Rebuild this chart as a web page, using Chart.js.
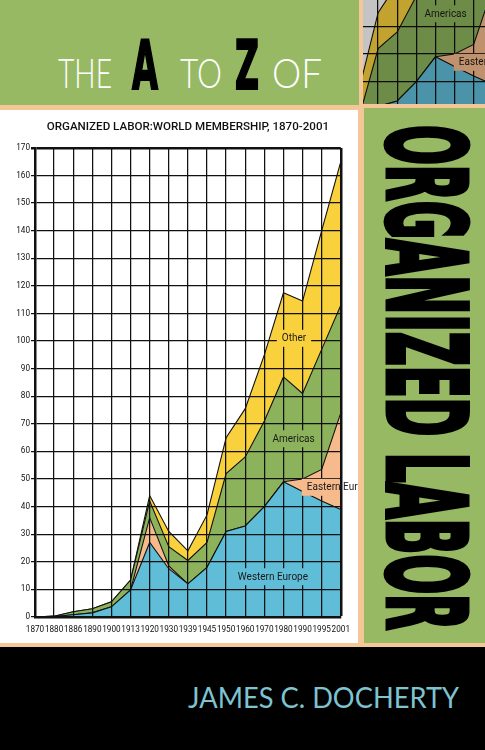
<!DOCTYPE html>
<html>
<head>
<meta charset="utf-8">
<script src="https://cdn.jsdelivr.net/npm/chart.js@4.4.0/dist/chart.umd.min.js"></script>
<style>
html,body{margin:0;padding:0;}
body{width:485px;height:750px;position:relative;background:#000;overflow:hidden;}
.abs{position:absolute;}
#peach{left:0;top:0;width:485px;height:647px;background:#F4C798;}
#topband{left:0;top:0;width:359px;height:105px;background:#97B964;}
#inset{left:363px;top:0;width:122px;height:104px;overflow:hidden;background:#c4c4c4;}
#inset canvas{position:absolute;left:-211px;top:-315px;filter:brightness(0.78);}
#panel{left:0;top:110px;width:358px;height:533px;background:#fff;}
#panel canvas{position:absolute;left:0;top:0;}
#rgreen{left:364px;top:108px;width:121px;height:535px;background:#97B964;}
.txt{left:0;top:0;white-space:nowrap;line-height:1;transform-origin:0 0;}
.light{font-family:Lato,"Open Sans",sans-serif;font-weight:300;font-size:42px;color:#fff;}
.heavy{font-family:"DejaVu Sans",sans-serif;font-weight:bold;font-stretch:condensed;color:#000;-webkit-text-stroke:2px #000;}
#vert{font-size:108px;-webkit-text-stroke:5px #000;}
#author{font-family:Lato,"Open Sans",sans-serif;font-weight:400;font-size:29px;color:#7DC3D0;}
</style>
</head>
<body>
<div id="peach" class="abs"></div>
<div id="topband" class="abs"></div>
<div id="inset" class="abs"><canvas id="c2" width="358" height="533"></canvas></div>
<div id="panel" class="abs"><canvas id="c1" width="358" height="533"></canvas></div>
<div id="rgreen" class="abs"></div>
<div id="tThe" class="abs txt light">THE</div>
<div id="tA" class="abs txt heavy" style="font-size:67px">A</div>
<div id="tTo" class="abs txt light">TO</div>
<div id="tZ" class="abs txt heavy" style="font-size:67px">Z</div>
<div id="tOf" class="abs txt light">OF</div>
<div id="vert" class="abs txt heavy">ORGANIZED LABOR</div>
<div id="author" class="abs txt">JAMES C. DOCHERTY</div>
<script>
// ---- data (millions of members) ----
const years = ['1870','1880','1886','1890','1900','1913','1920','1930','1939','1945','1950','1960','1970','1980','1990','1995','2001'];
const westernEurope = [0, 0.2, 0.8, 1.5, 3.7, 9.8, 27, 17.5, 12, 18, 31, 33, 40, 49, 45.5, 42, 39];
const easternEurope = [0, 0, 0, 0, 0, 0, 9, 1, 0, 0, 0, 0, 0, 0, 4.5, 11.5, 35];
const americas      = [0, 0.1, 1.1, 1.5, 1.8, 3.6, 6, 7, 8.5, 9, 21, 25, 31, 38, 31, 43.5, 39];
const other         = [0, 0, 0, 0, 0, 0, 2, 5.5, 3.5, 10, 13, 17.5, 24, 30.5, 33.5, 43, 52];
const yTicks = [0,10,20,30,40,50,60,70,80,90,100,110,120,130,140,150,160,170];
const chartTitle = 'ORGANIZED LABOR:WORLD MEMBERSHIP, 1870-2001';

const COLORS = {we:'#5FBDD8', ee:'#F6BA8C', am:'#8CB35B', ot:'#F9D13D'};

// series labels placed in data coordinates (category index, value)
const seriesLabels = [
  {text:'Other', idx:13.55, val:101, bg:COLORS.ot, align:'center'},
  {text:'Americas', idx:13.53, val:64.6, bg:COLORS.am, align:'center'},
  {text:'Western Europe', idx:12.45, val:14.6, bg:COLORS.we, align:'center'},
  {text:'Eastern Europe', idx:14.22, val:47, bg:COLORS.ee, align:'left'}
];

const labelPlugin = {
  id:'seriesLabels',
  afterDraw(chart){
    const ctx = chart.ctx, xs = chart.scales.x, ys = chart.scales.y, a = chart.chartArea;
    ctx.save();
    ctx.font = '10px Roboto, sans-serif';
    ctx.textBaseline = 'middle';
    ctx.textAlign = 'left';
    seriesLabels.forEach(l=>{
      const x = xs.getPixelForValue(l.idx), y = ys.getPixelForValue(l.val);
      const w = ctx.measureText(l.text).width;
      const x0 = l.align==='center' ? x - w/2 : x;
      ctx.save();
      ctx.beginPath();
      ctx.rect(a.left+1.3, a.top+1.3, a.right-a.left-2.6, a.bottom-a.top-2.6);
      ctx.clip();
      ctx.fillStyle = l.bg;
      ctx.fillRect(x0-5, y-8.5, w+10, 17);
      ctx.restore();
      ctx.fillStyle = '#1a1a1a';
      ctx.fillText(l.text, x0, y+0.5);
    });
    ctx.restore();
  }
};

function makeChart(canvas){
  const ds = (label, data, color, fill) => ({
    label, data, fill, backgroundColor:color, borderColor:'#111', borderWidth:1.1,
    pointRadius:0, tension:0
  });
  return new Chart(canvas, {
    type:'line',
    data:{
      labels:years,
      datasets:[
        ds('Western Europe', westernEurope, COLORS.we, 'origin'),
        ds('Eastern Europe', easternEurope, COLORS.ee, '-1'),
        ds('Americas', americas, COLORS.am, '-1'),
        ds('Other', other, COLORS.ot, '-1')
      ]
    },
    options:{
      responsive:false, animation:false, devicePixelRatio:1,
      layout:{padding:{left:0,right:14,top:0,bottom:0}},
      plugins:{
        legend:{display:false}, tooltip:{enabled:false},
        title:{display:true, text:chartTitle, color:'#111', fullSize:false,
          font:{family:'Roboto, sans-serif', size:11.6, weight:'500'},
          padding:{top:10, bottom:14}}
      },
      scales:{
        x:{
          grid:{z:1, color:'#111', lineWidth:(c)=> (c.index===years.length-1 ? 2.5 : 1.25), drawTicks:false},
          border:{z:1, display:true, color:'#111', width:2.5},
          ticks:{color:'#111', font:{family:'Roboto, sans-serif', size:8.2}, padding:8, maxRotation:0, autoSkip:false},
          afterFit:(s)=>{ s.height = 26; }
        },
        y:{
          stacked:true, min:0, max:170,
          afterBuildTicks:(s)=>{ s.ticks = yTicks.map(v=>({value:v})); },
          grid:{z:1, color:'#111', lineWidth:(c)=> (c.tick && c.tick.value===170 ? 2.5 : 1.25), tickLength:4},
          border:{z:1, display:true, color:'#111', width:2.5},
          ticks:{color:'#111', font:{family:'Roboto, sans-serif', size:8.2}, padding:1},
          afterFit:(s)=>{ s.width = 35; }
        }
      }
    },
    plugins:[labelPlugin]
  });
}

function placeText(el, x, baseline, width){
  el.style.transform = 'none';
  const probe = document.createElement('span');
  probe.style.cssText = 'display:inline-block;width:0;height:0;vertical-align:baseline;';
  el.appendChild(probe);
  const b = probe.offsetTop;
  el.removeChild(probe);
  const w = el.getBoundingClientRect().width;
  const s = width ? width / w : 1;
  el.style.transform = `translate(${x}px, ${baseline - b}px) scaleX(${s})`;
}
function placeVertical(el, xBase, yStart, length){
  el.style.transform = 'none';
  const probe = document.createElement('span');
  probe.style.cssText = 'display:inline-block;width:0;height:0;vertical-align:baseline;';
  el.appendChild(probe);
  const b = probe.offsetTop;
  el.removeChild(probe);
  const w = el.getBoundingClientRect().width;
  const s = length / w;
  el.style.transform = `translate(${xBase + b}px, ${yStart}px) rotate(90deg) scaleX(${s})`;
}

function layoutText(){
  placeText(document.getElementById('tThe'), 58, 88.3, 54);
  placeText(document.getElementById('tA'), 132, 89.3, 26);
  placeText(document.getElementById('tTo'), 180, 88.3, 42);
  placeText(document.getElementById('tZ'), 235, 89.3, 24);
  placeText(document.getElementById('tOf'), 272, 88.3, 50);
  placeText(document.getElementById('author'), 188, 708.3, 271);
  placeVertical(document.getElementById('vert'), 388, 125, 505);
}

makeChart(document.getElementById('c1'));
makeChart(document.getElementById('c2'));
layoutText();
if (document.fonts && document.fonts.ready) document.fonts.ready.then(layoutText);
</script>
</body>
</html>
